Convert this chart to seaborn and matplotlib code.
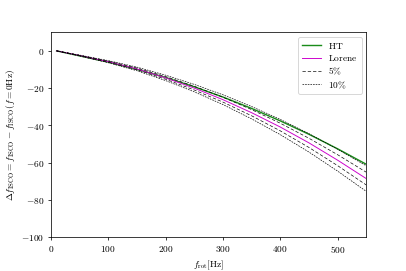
import matplotlib
matplotlib.use("Agg")
import matplotlib.pyplot as plt
import seaborn as sns
import numpy as np
import pandas as pd

plt.rcParams['font.family'] = 'serif'
plt.rcParams['font.serif'] = ['cmr10', 'DejaVu Serif']
plt.rcParams['mathtext.fontset'] = 'cm'
plt.rcParams['axes.formatter.use_mathtext'] = True
plt.rcParams['axes.unicode_minus'] = True

f_rot = [10, 50, 100, 150, 200, 250, 300, 350, 400, 450, 500, 550]
ht = [0.0, -2.7, -6.0, -9.9, -14.3, -19.3, -24.8, -30.9, -37.6, -44.8, -52.6, -60.9]
lorene = [0.0, -2.5, -5.8, -9.7, -14.5, -20.0, -26.2, -33.2, -40.9, -49.4, -58.7, -68.6]
band_5 = [0.95, 1.05]
band_10 = [0.90, 1.10]

df = pd.DataFrame({'f': f_rot, 'HT': ht, 'Lorene': lorene})

fig, ax = plt.subplots(figsize=(6, 4), dpi=67.83)
fig.subplots_adjust(left=0.125, right=0.9, bottom=0.125, top=0.88)

sns.lineplot(data=df, x='f', y='HT', ax=ax, color='#1a8c1a', lw=1.5, label=r'$\mathrm{HT}$')
sns.lineplot(data=df, x='f', y='Lorene', ax=ax, color='#cc00cc', lw=1.0, label=r'$\mathrm{Lorene}$')
for i, k in enumerate(band_5):
    sns.lineplot(x=df['f'], y=df['Lorene'] * k, ax=ax, color='black', lw=0.7,
                 linestyle=(0, (5, 3)), label=r'$5\%$' if i == 0 else None)
for i, k in enumerate(band_10):
    sns.lineplot(x=df['f'], y=df['Lorene'] * k, ax=ax, color='black', lw=0.7,
                 linestyle=(0, (2.5, 1.5)), label=r'$10\%$' if i == 0 else None)

ax.set_xlim(0, 550)
ax.set_ylim(-100, 10)
ax.set_xlabel(r'$f_{\rm rot}[{\rm Hz}]$')
ax.set_ylabel(r'$\Delta f_{\rm ISCO} = f_{\rm ISCO} - f_{\rm ISCO}(f = 0{\rm Hz})$')
ax.legend(loc='upper right', labelspacing=0.25)

fig.savefig('out.png', dpi=67.83)
